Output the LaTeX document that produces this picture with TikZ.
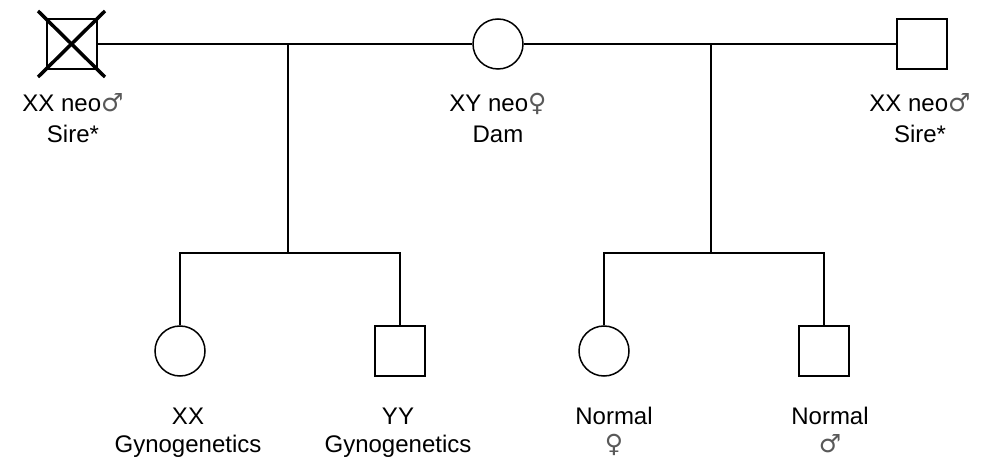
\documentclass[tikz,border=0pt]{standalone}
\usepackage{fontspec}
\setmainfont{Liberation Sans}
\newfontfamily\symfont{DejaVu Sans}
\newcommand{\msym}{{\fontsize{25}{25}\symfont\color{black!65}♂}}
\newcommand{\fsym}{{\fontsize{25}{25}\symfont\color{black!65}♀}}
\usetikzlibrary{positioning}
\tikzset{
	male/.style={draw,rectangle,minimum size=50pt,inner sep=0pt},
	female/.style={draw,circle,minimum size=50pt,inner sep=0pt},
	toplbl/.style={align=center,anchor=base,font=\fontsize{24}{31}\selectfont},
	botlbl/.style={align=center,anchor=base,font=\fontsize{24}{28}\selectfont}
}
\begin{document}
\begin{tikzpicture}[x=1pt,y=-1pt,line width=1.5pt]
		\useasboundingbox (0,0) rectangle (982,462);
		% Parents
		\node[male] (sire1) at (72,44) {};
		\node[female] (dam) at (498,44) {};
		\node[male] (sire2) at (922,44) {};
		% Dead sire
		\draw[line width=3.5pt] ([shift={(-34,-33)}]sire1.center) -- ([shift={(33,33)}]sire1.center);
		\draw[line width=3.5pt] ([shift={(33,-33)}]sire1.center) -- ([shift={(-34,33)}]sire1.center);
		% Matings
		\draw (sire1.east) -- (dam.west);
		\draw (dam.east) -- (sire2.west);
		% Offspring
		\node[female] (xx) at (180,351) {};
		\node[male] (yy) at (400,351) {};
		\node[female] (daughter) at (604,351) {};
		\node[male] (son) at (824,351) {};
		% Sibships
		\coordinate (drop1) at (288,44);
		\coordinate (bar1) at (288,253);
		\coordinate (drop2) at (711,44);
		\coordinate (bar2) at (711,253);
		\draw (drop1) -- (bar1);
		\draw (xx.north) |- (bar1) -| (yy.north);
		\draw (drop2) -- (bar2);
		\draw (daughter.north) |- (bar2) -| (son.north);
		% Labels
		\node[toplbl] (sire1lbl) at (73,143) {XX neo\msym\\Sire*};
		\node[toplbl] (damlbl) at (498,143) {XY neo\fsym\\Dam};
		\node[toplbl] (sire2lbl) at (920,143) {XX neo\msym\\Sire*};
		\node[botlbl] (xxlbl) at (188,452) {XX\\Gynogenetics};
		\node[botlbl] (yylbl) at (398,452) {YY\\Gynogenetics};
		\node[botlbl] (daughterlbl) at (614,452) {Normal\\\fsym};
		\node[botlbl] (sonlbl) at (830,452) {Normal\\\msym};
	\end{tikzpicture}
\end{document}
